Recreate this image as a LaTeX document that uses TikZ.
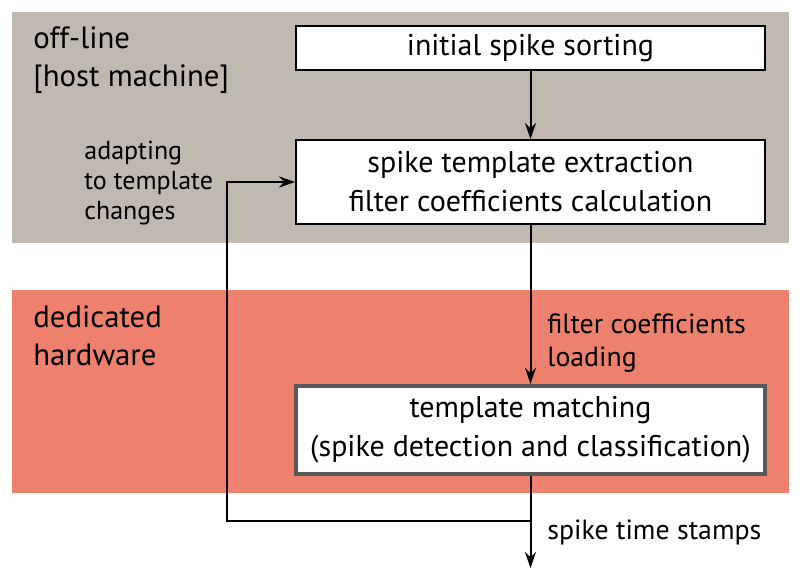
\documentclass[tikz,border=0pt]{standalone}
\usepackage{fontspec}
\setmainfont{PT Sans}
\usetikzlibrary{arrows.meta,positioning}
\definecolor{hostgray}{RGB}{191,185,177}
\definecolor{hwred}{RGB}{238,129,110}
\definecolor{edgegray}{RGB}{88,88,88}
\tikzset{
  band/.style={anchor=north west, inner sep=0pt, minimum width=388.5pt},
  bandlabel/.style={anchor=north west, align=left, inner sep=0pt, font=\fontsize{15.4}{19}\selectfont},
  stagebox/.style={draw, fill=white, line width=1pt, minimum width=234.5pt, align=center, inner sep=0pt, font=\fontsize{15}{19.5}\selectfont},
  matchbox/.style={stagebox, draw=edgegray, line width=2.2pt, minimum width=234.5pt},
  flow/.style={line width=1pt, -{Stealth[length=8pt,width=5.5pt]}},
  notelabel/.style={anchor=west, align=left, inner sep=0pt, font=\fontsize{13.9}{16.5}\selectfont}
}
\begin{document}
\begin{tikzpicture}[x=0.5pt,y=-0.5pt]
			%%%%% START %%%%%
			\useasboundingbox (0,0) rectangle (800,583);
			
			\node[band, fill=hostgray, minimum height=115.5pt] (host) at (12,12) {};
			\node[band, fill=hwred, minimum height=101.5pt] (hardware) at (12,290) {};
			
			\node[bandlabel] (hostlabel) at (33,26) {off-line\\{[}host machine{]}};
			\node[bandlabel] (hwlabel) at (33,305) {dedicated\\hardware};
			
			\node[stagebox, minimum height=22pt] (sorting) at (530.5,48) {initial spike sorting};
			\node[stagebox, minimum height=42pt] (extraction) at (530.5,182) {spike template extraction\\filter coefficients calculation};
			\node[matchbox, minimum height=44pt] (matching) at (530.5,430) {template matching\\(spike detection and classification)};
			
			\coordinate (branch) at (matching.south |- 0,521);
			\coordinate (turn) at (227,521);
			\coordinate (out) at (matching.south |- 0,568);
			
			\draw[flow] (sorting) -- (extraction);
			\draw[flow] (extraction) -- (matching);
			\draw[flow] (matching) -- (out);
			\draw[flow] (branch) -- (turn) |- (extraction.west);
			
			\node[notelabel, font=\fontsize{13}{15}\selectfont] (adapting) at (84,183) {adapting\\to template\\changes};
			\node[notelabel] (loading) at (547,343) {filter coefficients\\loading};
			\node[notelabel] (stamps) at (547,532) {spike time stamps};
			
			%%%%% END %%%%%
\end{tikzpicture}
\end{document}
